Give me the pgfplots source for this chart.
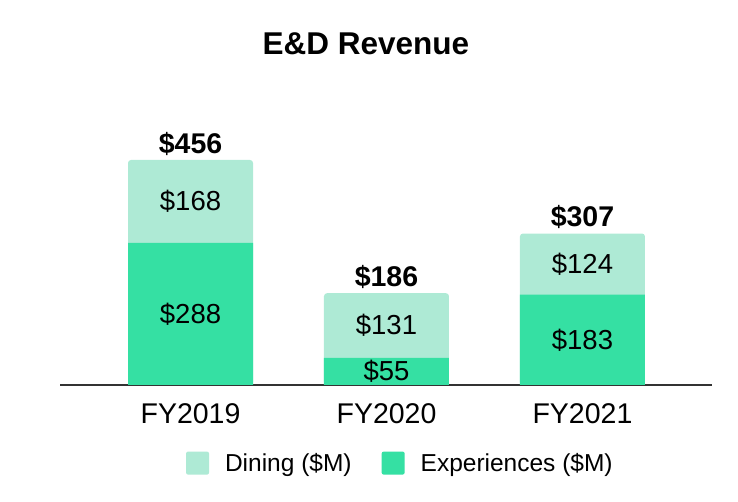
\documentclass[border=0pt]{standalone}
\usepackage{fontspec}
\setmainfont{Liberation Sans}
\usepackage{pgfplots}
\usepackage{pgfplotstable}
\pgfplotsset{compat=1.18}

\definecolor{dining}{HTML}{AEEAD5}
\definecolor{exper}{HTML}{35E0A3}
\definecolor{axisgray}{HTML}{333333}

% x, experiences, dining, total ($M)
\pgfplotstableread{
x exp din tot
0 288 168 456
1 55  131 186
2 183 124 307
}\revenue

\begin{document}
\begin{tikzpicture}
\path[use as bounding box] (0pt,0pt) rectangle (738pt,502pt);
\node[font=\fontsize{31.5}{38}\selectfont\bfseries] at (366pt,458pt) {E\&D Revenue};
\begin{axis}[
    at={(60pt,117pt)}, anchor=south west,
    scale only axis,
    width=652pt, height=285pt,
    xmin=-0.666, xmax=2.661,
    ymin=0, ymax=577.6,
    axis x line*=bottom,
    axis y line=none,
    axis line style={draw=axisgray, line width=1.4pt, -},
    xtick=data,
    xticklabels={FY2019, FY2020, FY2021},
    major tick length=0pt,
    xticklabel style={font=\fontsize{28.5}{34}\selectfont, yshift=-15pt},
    ytick=\empty,
    /pgf/number format/assume math mode=true,
    ybar, bar width=125pt, bar shift=0pt,
    legend columns=2,
    legend style={draw=none, at={(0.522,-0.274)}, anchor=center,
        font=\fontsize{24.5}{29}\selectfont,
        /tikz/every even column/.append style={column sep=28pt}},
    legend image code/.code={
        \fill[#1, rounded corners=2pt] (0pt,-11.5pt) rectangle (23pt,11.5pt);
        \path (0pt,0pt) (37pt,0pt);},
  ]
  % total bar (light, rounded top), drawn first
  \addplot[fill=dining, draw=none, rounded corners=3pt,
      nodes near coords={\textbf{\$\pgfmathprintnumber{\pgfplotspointmeta}}},
      every node near coord/.append style={font=\fontsize{28.5}{34}\selectfont, text=black, anchor=south, yshift=1pt}]
    table[x=x, y=tot] {\revenue};
  \addlegendentry{Dining (\$M)}
  \addplot[fill=exper, draw=none]
    table[x=x, y=exp] {\revenue};
  \addlegendentry{Experiences (\$M)}
  % segment labels
  \addplot[draw=none, mark=none, forget plot, point meta=explicit,
      nodes near coords={\$\pgfmathprintnumber{\pgfplotspointmeta}},
      every node near coord/.append style={font=\fontsize{27.5}{33}\selectfont, text=black, anchor=center}]
    table[x=x, y expr=\thisrow{exp}/2, meta=exp] {\revenue};
  \addplot[draw=none, mark=none, forget plot, point meta=explicit,
      nodes near coords={\$\pgfmathprintnumber{\pgfplotspointmeta}},
      every node near coord/.append style={font=\fontsize{27.5}{33}\selectfont, text=black, anchor=center}]
    table[x=x, y expr=\thisrow{exp}+\thisrow{din}/2, meta=din] {\revenue};
\end{axis}
\end{tikzpicture}
\end{document}
